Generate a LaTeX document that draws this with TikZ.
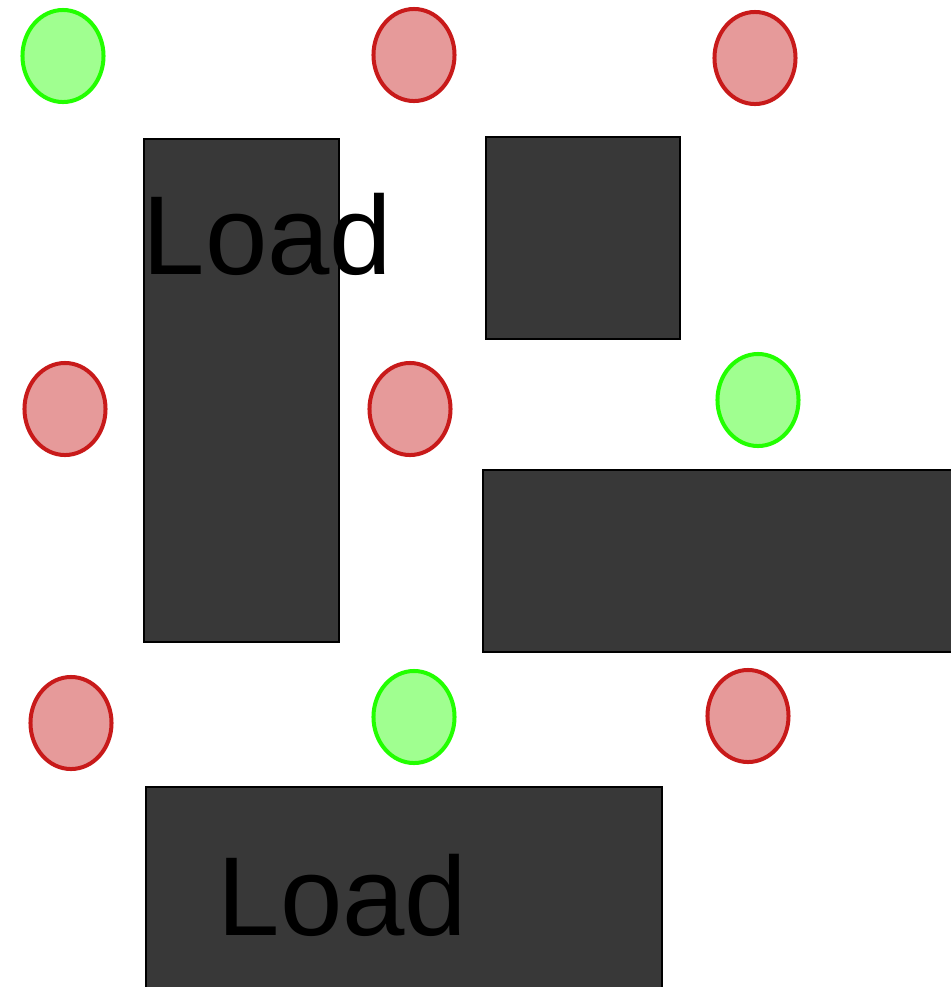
\documentclass[tikz,border=0pt]{standalone}
\usepackage{fontspec}
\setmainfont{Liberation Sans}
\usetikzlibrary{shapes.geometric}
\definecolor{okgreen}{RGB}{34,255,0}
\definecolor{okfill}{RGB}{160,255,144}
\definecolor{badred}{RGB}{200,26,26}
\definecolor{badfill}{RGB}{230,154,154}
\definecolor{blockgrey}{RGB}{56,56,56}

\begin{document}
\begin{tikzpicture}[x=0.01cm, y=-0.01cm,
    okdot/.style={ellipse, draw=okgreen, fill=okfill, line width=0.04cm,
               minimum width=0.81cm, minimum height=0.92cm, inner sep=0pt},
    baddot/.style={ellipse, draw=badred, fill=badfill, line width=0.04cm,
               minimum width=0.81cm, minimum height=0.92cm, inner sep=0pt},
    block/.style={draw=black, fill=blockgrey, line width=0.02cm},
    tag/.style={anchor=base west, inner sep=0pt, font=\fontsize{31.9}{36}\selectfont}
]
    \useasboundingbox (0,0) rectangle (951,987);
    \clip (0,0) rectangle (951,987);

    % Blocks
    \draw[block] (144,139) rectangle (339,642);
    \draw[block] (486,137) rectangle (680,339);
    \draw[block] (483,470) rectangle (980,652);
    \draw[block] (146,787) rectangle (662,1000);

    % Labels
    \node[tag] (loadA) at (142,274) {Load};
    \node[tag] (loadB) at (217,935) {Load};

    % Top row
    \node[okdot]  (d11) at (63,56) {};
    \node[baddot] (d12) at (414,55) {};
    \node[baddot] (d13) at (755,58) {};

    % Middle row
    \node[baddot] (d21) at (65,409) {};
    \node[baddot] (d22) at (410,409) {};
    \node[okdot]  (d23) at (758,400) {};

    % Bottom row
    \node[baddot] (d31) at (71,723) {};
    \node[okdot]  (d32) at (414,717) {};
    \node[baddot] (d33) at (748,716) {};
\end{tikzpicture}
\end{document}
